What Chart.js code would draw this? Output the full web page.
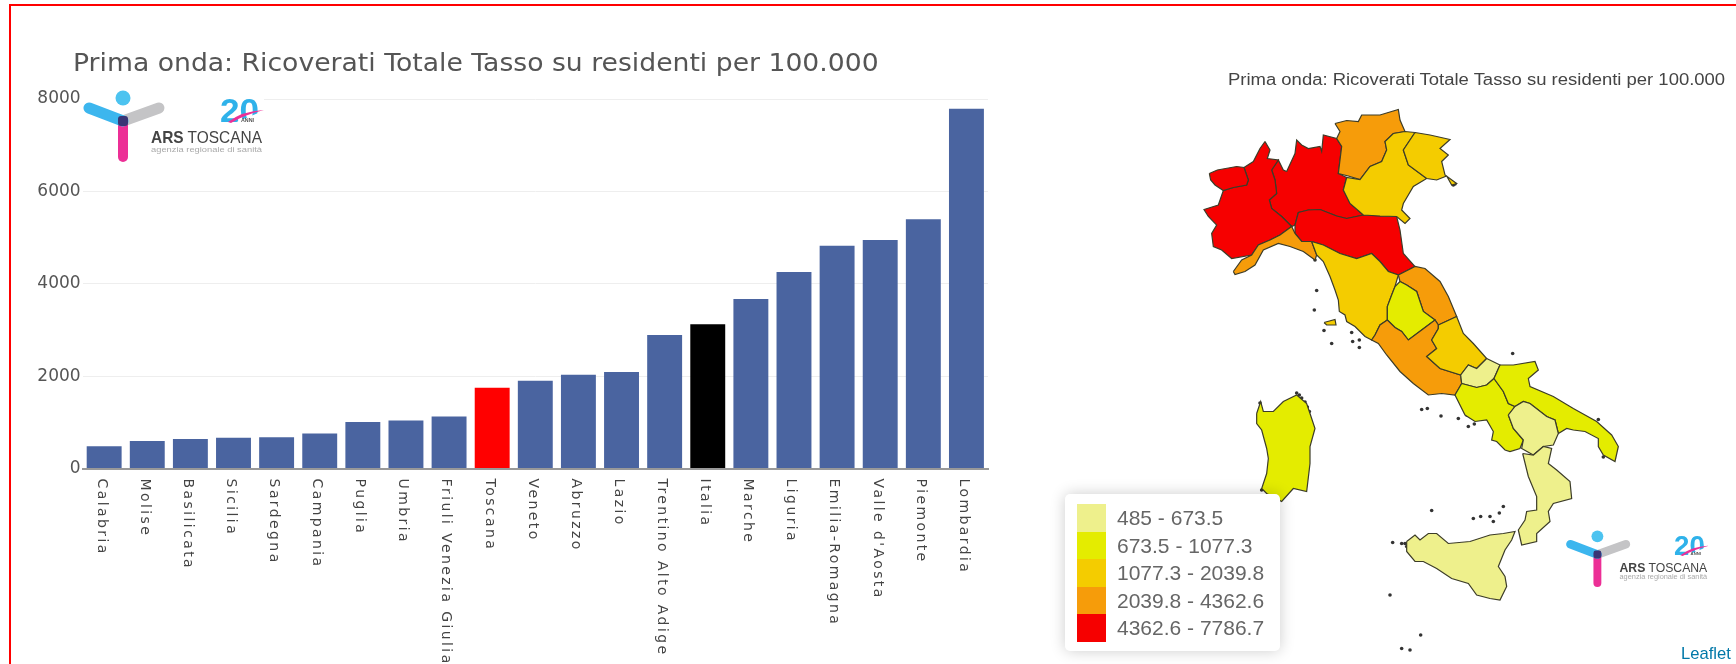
<!DOCTYPE html>
<html>
<head>
<meta charset="utf-8">
<title>Prima onda: Ricoverati Totale</title>
<script src="https://cdn.jsdelivr.net/npm/chart.js@4"></script>
<style>
  html, body { margin: 0; padding: 0; background: #fff; overflow: hidden; width: 1736px; height: 664px; }
  #frame { position: absolute; left: 9px; top: 4px; width: 1740px; height: 700px; border: 2px solid #f00; box-sizing: border-box; }
  canvas { position: absolute; filter: blur(.45px); }
  #barCanvas { left: 0; top: 0; }
  #mapCanvas { left: 1000px; top: 63px; }
  #title { position: absolute; left: 73px; top: 49px; font: 24px "DejaVu Sans"; color: #555; white-space: nowrap; transform: scaleX(1.11); transform-origin: left; filter: blur(.3px); }
  #mapTitle { position: absolute; left: 1228px; top: 71px; font: 16px "Liberation Sans"; color: #444; white-space: nowrap; transform: scaleX(1.154); transform-origin: left; filter: blur(.3px); }
  #legend { position: absolute; left: 1065px; top: 494px; width: 215px; height: 157px; background: #fff; border-radius: 5px; box-shadow: 0 0 15px rgba(0,0,0,.2); }
  .row { position: absolute; left: 12px; width: 200px; height: 27.6px; }
  .swatch { position: absolute; left: 0; top: 0; width: 28.5px; height: 27.6px; }
  .rowText { position: absolute; left: 40px; top: 2px; font: 21px "Liberation Sans"; color: #666; white-space: nowrap; }
  #leaflet { position: absolute; left: 1681px; top: 644px; font: 16.6px "Liberation Sans"; color: #0078a8; }
  .logo { position: absolute; background: #fff; }
</style>
</head>
<body>
<div id="frame"></div>
<canvas id="barCanvas" width="1010" height="664"></canvas>
<canvas id="mapCanvas" width="736" height="600"></canvas>
<div id="title">Prima onda: Ricoverati Totale Tasso su residenti per 100.000</div>
<div id="mapTitle">Prima onda: Ricoverati Totale Tasso su residenti per 100.000</div>
<div id="legend"></div>
<div id="leaflet">Leaflet</div>
<div id="logo1" class="logo" style="left:82px;top:90px;width:182px;height:75px"></div>
<div id="logo2" class="logo" style="left:1564.6px;top:529.7px;width:143.8px;height:59.3px"></div>

<script>
const categories = ['Calabria', 'Molise', 'Basilicata', 'Sicilia', 'Sardegna', 'Campania', 'Puglia', 'Umbria',
  'Friuli Venezia Giulia', 'Toscana', 'Veneto', 'Abruzzo', 'Lazio', 'Trentino Alto Adige', 'Italia', 'Marche',
  'Liguria', 'Emilia-Romagna', "Valle d'Aosta", 'Piemonte', 'Lombardia'];
const values = [485, 600, 640, 670, 680, 760, 1010, 1040, 1130, 1750, 1900, 2030, 2090, 2892, 3123, 3671, 4255, 4825, 4948, 5396, 7786.7];
const yTicks = [0, 2000, 4000, 6000, 8000];

const legendBreaks = [485, 673.5, 1077.3, 2039.8, 4362.6, 7786.7];
const legendColors = ['#eef08c', '#e4ec00', '#f4cc00', '#f69c0a', '#f60000'];

// region outlines as [lon, lat]
const valleAosta = [[6.28,45.79],[6.52,45.86],[7.10,45.93],[7.32,45.91],[7.45,45.66],[7.40,45.56],[7.00,45.51],[6.70,45.45],[6.45,45.56],[6.32,45.66]];
const piemonte = [[7.95,46.43],[8.10,46.26],[8.02,46.09],[8.35,46.06],[8.15,45.86],[8.25,45.66],[8.30,45.39],[8.08,45.26],[8.15,45.09],[8.45,44.93],[8.75,44.73],[8.40,44.56],[8.10,44.46],[7.75,44.36],[7.55,44.16],[6.95,44.09],[6.65,44.26],[6.40,44.33],[6.35,44.59],[6.50,44.76],[6.25,44.93],[6.12,45.07],[6.55,45.16],[6.70,45.45],[7.00,45.51],[7.40,45.56],[7.45,45.66],[7.32,45.91],[7.60,46.03],[7.80,46.29]];
const lombardia = [[8.60,45.83],[8.85,46.19],[8.90,46.46],[9.05,46.36],[9.25,46.29],[9.60,46.33],[9.65,46.23],[9.70,46.56],[10.10,46.49],[10.25,46.33],[10.15,45.79],[10.40,45.71],[10.30,45.46],[10.50,45.19],[10.90,44.96],[10.40,44.89],[10.10,44.94],[9.60,45.07],[9.25,45.06],[8.95,45.01],[8.85,44.76],[8.75,44.73],[8.45,44.93],[8.15,45.09],[8.08,45.26],[8.30,45.39],[8.25,45.66],[8.15,45.86],[8.35,46.06],[8.50,45.86]];
const trentino = [[10.05,46.79],[10.40,46.85],[10.75,46.83],[10.85,46.96],[11.40,46.96],[11.95,47.07],[12.00,46.86],[12.15,46.63],[11.80,46.59],[11.55,46.43],[11.60,46.26],[11.45,46.03],[11.10,45.93],[10.80,45.67],[10.45,45.74],[10.15,45.79],[10.25,46.33],[10.10,46.49],[10.20,46.63]];
const veneto = [[12.45,46.61],[12.10,46.26],[12.25,45.96],[12.80,45.69],[12.40,45.53],[12.10,45.19],[12.05,45.06],[12.30,44.89],[12.15,44.79],[11.90,44.93],[11.40,44.94],[10.90,44.96],[10.50,45.19],[10.30,45.46],[10.40,45.71],[10.80,45.67],[11.10,45.93],[11.45,46.03],[11.60,46.26],[11.55,46.43],[11.80,46.59],[12.15,46.63]];
const friuli = [[12.45,46.61],[12.90,46.56],[13.50,46.47],[13.20,46.29],[13.45,46.16],[13.25,46.03],[13.35,45.76],[13.70,45.59],[13.55,45.56],[13.40,45.74],[13.10,45.66],[12.80,45.69],[12.25,45.96],[12.10,46.26]];
const emilia = [[8.95,45.01],[9.25,45.06],[9.60,45.07],[10.10,44.94],[10.40,44.89],[10.90,44.96],[11.40,44.94],[11.90,44.93],[12.00,44.66],[12.10,44.19],[12.45,43.93],[11.95,43.76],[11.65,43.83],[11.40,44.03],[11.15,44.19],[10.70,44.09],[10.20,44.19],[9.70,44.36],[9.35,44.43],[9.05,44.43],[8.85,44.59],[8.85,44.76]];
const liguria = [[7.00,43.83],[7.25,44.06],[7.55,44.16],[7.75,44.36],[8.10,44.46],[8.40,44.56],[8.75,44.73],[8.85,44.59],[9.05,44.43],[9.35,44.43],[9.50,44.16],[9.45,44.06],[9.10,44.23],[8.70,44.33],[8.35,44.39],[7.90,44.26],[7.65,43.96],[7.35,43.83],[7.05,43.77]];
const toscana = [[9.35,44.43],[9.70,44.36],[10.20,44.19],[10.70,44.09],[11.15,44.19],[11.40,44.03],[11.65,43.83],[11.95,43.76],[11.85,43.53],[11.75,43.36],[11.62,43.13],[11.62,42.86],[11.40,42.76],[11.25,42.56],[11.15,42.46],[10.95,42.53],[10.65,42.73],[10.40,42.83],[10.35,42.96],[10.18,43.03],[10.15,43.26],[10.05,43.46],[9.90,43.73],[9.70,44.03],[9.50,44.16]];
const elba = [[9.72,42.81],[10.05,42.87],[10.08,42.76],[9.80,42.76]];
const marche = [[11.95,43.76],[12.45,43.93],[12.75,43.89],[13.20,43.63],[13.45,43.33],[13.70,42.93],[13.15,42.76],[13.05,42.86],[12.70,43.03],[12.50,43.43],[12.20,43.56],[12.00,43.63]];
const umbria = [[12.00,43.63],[11.85,43.53],[11.75,43.36],[11.62,43.13],[11.62,42.86],[11.85,42.71],[12.05,42.63],[12.25,42.46],[12.65,42.66],[13.05,42.86],[12.70,43.03],[12.50,43.43],[12.20,43.56]];
const lazio = [[11.62,42.86],[11.40,42.76],[11.25,42.56],[11.15,42.46],[11.35,42.39],[11.60,42.16],[12.00,41.83],[12.40,41.59],[12.85,41.36],[13.25,41.39],[13.65,41.36],[13.85,41.59],[13.82,41.76],[13.20,41.89],[12.80,42.13],[13.10,42.29],[12.95,42.46],[13.15,42.69],[13.15,42.76],[13.05,42.86],[12.65,42.66],[12.25,42.46],[12.05,42.63],[11.85,42.71]];
const abruzzo = [[13.15,42.76],[13.70,42.93],[13.90,42.59],[14.20,42.39],[14.60,42.09],[14.30,41.89],[14.05,41.96],[13.82,41.76],[13.20,41.89],[12.80,42.13],[13.10,42.29],[12.95,42.46],[13.15,42.69]];
const molise = [[14.60,42.09],[15.00,41.96],[14.82,41.69],[14.60,41.56],[14.30,41.51],[13.85,41.59],[13.82,41.76],[14.05,41.96],[14.30,41.89]];
const puglia = [[15.00,41.96],[15.40,41.96],[16.05,42.03],[16.15,41.86],[15.85,41.69],[15.90,41.53],[16.60,41.33],[17.20,41.09],[17.90,40.83],[18.35,40.56],[18.55,40.33],[18.45,40.03],[18.10,40.16],[17.95,40.33],[17.95,40.49],[17.55,40.63],[17.20,40.66],[17.00,40.69],[16.75,40.59],[16.65,40.86],[16.40,40.93],[15.90,41.19],[15.70,41.23],[15.45,41.13],[15.25,41.19],[15.10,41.43],[14.82,41.69]];
const campania = [[13.85,41.59],[14.30,41.51],[14.60,41.56],[14.82,41.69],[15.10,41.43],[15.25,41.19],[15.45,41.13],[15.25,40.96],[15.40,40.69],[15.70,40.46],[15.60,40.29],[15.30,40.23],[15.15,40.26],[14.90,40.43],[14.75,40.46],[14.80,40.63],[14.60,40.86],[14.25,40.83],[13.95,40.96],[13.65,41.36]];
const basilicata = [[15.25,40.96],[15.45,41.13],[15.70,41.23],[15.90,41.19],[16.40,40.93],[16.65,40.86],[16.75,40.59],[16.60,40.36],[16.30,40.33],[16.00,40.16],[15.65,40.29],[15.70,40.46],[15.40,40.69]];
const calabria = [[15.68,40.19],[16.00,40.16],[16.30,40.33],[16.55,40.29],[16.45,39.99],[16.70,39.86],[17.10,39.63],[17.15,39.29],[16.60,39.19],[16.45,39.03],[16.50,38.83],[16.10,38.59],[16.10,38.43],[15.65,38.36],[15.55,38.66],[15.75,38.86],[15.80,39.03],[16.10,39.06],[16.10,39.33],[15.85,39.73]];
const sicilia = [[12.20,38.43],[12.45,38.56],[12.60,38.46],[12.85,38.59],[13.10,38.59],[13.45,38.39],[14.10,38.43],[14.70,38.56],[15.10,38.59],[15.45,38.63],[15.35,38.46],[15.15,38.26],[14.95,37.93],[15.15,37.73],[15.20,37.53],[15.00,37.26],[14.70,37.29],[14.30,37.36],[14.05,37.59],[13.55,37.69],[13.10,37.89],[12.70,38.03],[12.45,38.03],[12.20,38.23]];
const sardegna = [[7.70,40.99],[7.82,41.23],[7.90,41.03],[8.20,41.03],[8.50,41.23],[8.90,41.36],[9.20,41.19],[9.30,40.99],[9.45,40.69],[9.30,40.33],[9.30,39.99],[9.20,39.43],[8.80,39.49],[8.45,39.23],[8.00,39.39],[7.85,39.49],[8.00,39.79],[8.05,40.09],[8.00,40.29],[7.85,40.66],[7.70,40.79]];
const smallIslands = [[9.50,43.45],[9.43,43.06],[9.72,42.65],[9.95,42.39],[10.55,42.61],[10.58,42.43],[10.78,42.31],[10.78,42.46],[9.45,44.06],[15.38,42.19],[12.65,41.07],[12.82,41.09],[13.23,40.94],[13.75,40.89],[14.00,40.96],[14.05,40.73],[14.23,40.78],[12.95,39.05],[14.20,38.89],[14.42,38.93],[14.70,38.93],[14.80,38.83],[14.98,39.00],[15.10,39.13],[11.78,38.41],[12.05,38.39],[12.15,38.39],[12.20,38.33],[11.70,37.36],[12.62,36.56],[12.30,36.26],[12.05,36.29],[8.90,41.40],[8.98,41.36],[9.05,41.30],[9.15,41.22],[9.22,41.12],[9.28,41.03],[7.80,41.20],[7.82,41.10],[7.85,39.46],[13.60,45.56],[13.65,45.58],[18.10,40.12],[17.95,40.87]];

const regionShapes = [
  ['Sicilia', sicilia], ['Calabria', calabria], ['Basilicata', basilicata], ['Puglia', puglia], ['Campania', campania],
  ['Molise', molise], ['Abruzzo', abruzzo], ['Lazio', lazio], ['Umbria', umbria], ['Marche', marche], ['Toscana', toscana],
  ['Toscana', elba], ['Liguria', liguria], ['Friuli Venezia Giulia', friuli], ['Veneto', veneto], ['Trentino Alto Adige', trentino],
  ['Emilia-Romagna', emilia], ["Valle d'Aosta", valleAosta], ['Piemonte', piemonte], ['Lombardia', lombardia], ['Sardegna', sardegna]
];

const barColor = (name) => name === 'Toscana' ? '#ff0000' : name === 'Italia' ? '#000000' : '#4a64a0';

const colorForValue = (v) => {
  for (let i = 0; i < legendColors.length; i++) {
    if (v <= legendBreaks[i + 1]) return legendColors[i];
  }
  return legendColors[legendColors.length - 1];
};

// x labels read top to bottom, chart.js only right-aligns these so draw them from the scale
const verticalLabels = {
  id: 'verticalLabels',
  afterDraw(chart) {
    const ctx = chart.ctx;
    const xScale = chart.scales.x;
    ctx.save();
    ctx.font = '14px "DejaVu Sans"';
    ctx.letterSpacing = '2.4px';
    ctx.fillStyle = '#444';
    ctx.textAlign = 'left';
    ctx.textBaseline = 'middle';
    categories.forEach((name, i) => {
      ctx.save();
      ctx.translate(xScale.getPixelForTick(i) - 3, xScale.top + 10);
      ctx.rotate(Math.PI / 2);
      ctx.fillText(name, 0, 0);
      ctx.restore();
    });
    ctx.restore();
  }
};

new Chart(document.getElementById('barCanvas'), {
  type: 'bar',
  data: {
    labels: categories,
    datasets: [{
      data: values,
      backgroundColor: categories.map(barColor),
      barPercentage: 0.81,
      categoryPercentage: 1
    }]
  },
  options: {
    responsive: false,
    animation: false,
    layout: { padding: { top: 99, right: 22, left: 0, bottom: 0 } },
    plugins: { legend: { display: false }, tooltip: { enabled: false } },
    scales: {
      x: {
        grid: { display: false },
        border: { color: '#999', width: 2 },
        ticks: { display: false },
        afterFit: (scale) => { scale.height = 195.4; }
      },
      y: {
        min: 0,
        max: 8000,
        afterBuildTicks: (scale) => { scale.ticks = yTicks.map((v) => ({ value: v })); },
        grid: { color: '#eeeeee', drawTicks: false },
        border: { display: false },
        ticks: {
          font: { family: 'DejaVu Sans', size: 17 },
          color: '#555',
          padding: 2,
          callback: (v) => String(v)
        },
        afterFit: (scale) => { scale.width = 82.6; }
      }
    }
  },
  plugins: [verticalLabels]
});

const mapDatasets = regionShapes.map(([name, shape]) => ({
  label: name,
  data: shape.concat([shape[0]]).map(([lon, lat]) => ({ x: lon, y: lat })),
  showLine: true,
  fill: 'shape',
  tension: 0,
  pointRadius: 0,
  borderWidth: 1.2,
  borderColor: '#3c3c28',
  backgroundColor: colorForValue(values[categories.indexOf(name)])
}));
mapDatasets.push({
  label: 'isole',
  data: smallIslands.map(([lon, lat]) => ({ x: lon, y: lat })),
  pointRadius: 1.8,
  pointBorderWidth: 0,
  backgroundColor: '#333'
});

new Chart(document.getElementById('mapCanvas'), {
  type: 'scatter',
  data: { datasets: mapDatasets },
  options: {
    responsive: false,
    animation: false,
    layout: { padding: 0, autoPadding: false },
    plugins: { legend: { display: false }, tooltip: { enabled: false } },
    scales: {
      x: { display: false, min: 0, max: 22.08 },
      y: { display: false, min: 36, max: 48 }
    }
  }
});

// legend rows
const legendBox = document.getElementById('legend');
legendColors.forEach((color, i) => {
  const row = document.createElement('div');
  row.className = 'row';
  row.style.top = (10 + i * 27.6) + 'px';
  row.innerHTML = '<div class="swatch" style="background:' + color + '"></div>' +
    '<div class="rowText">' + legendBreaks[i] + ' - ' + legendBreaks[i + 1] + '</div>';
  legendBox.appendChild(row);
});

// ARS Toscana logo
const logoSvg = `<svg xmlns="http://www.w3.org/2000/svg" viewBox="0 0 182 75" width="100%" height="100%" style="filter:blur(.7px)">
  <circle cx="41" cy="8" r="7.5" fill="#4cc3f0"/>
  <line x1="41" y1="31" x2="77" y2="18" stroke="#c4c4c6" stroke-width="11" stroke-linecap="round"/>
  <line x1="41" y1="31" x2="41" y2="67" stroke="#ec2f96" stroke-width="10" stroke-linecap="round"/>
  <line x1="41" y1="31" x2="7" y2="18" stroke="#3cb6ee" stroke-width="11" stroke-linecap="round"/>
  <rect x="36" y="26" width="10" height="10" rx="3" fill="#3a3575"/>
  <text x="138" y="32" font-family="Liberation Sans" font-weight="bold" font-size="34" fill="#2fb2ea" textLength="39" lengthAdjust="spacingAndGlyphs">20</text>
  <path d="M152 33 L181 21 L181 36 L152 36 Z" fill="#fff"/>
  <path d="M146 32 Q160 21 182 20 Q162 25 149 33 Z" fill="#ec2f96"/>
  <text x="159" y="32" font-family="Liberation Sans" font-weight="bold" font-size="5" fill="#555" textLength="13" lengthAdjust="spacingAndGlyphs">ANNI</text>
  <text x="69" y="53" font-family="Liberation Sans" font-size="17" fill="#444" textLength="111" lengthAdjust="spacingAndGlyphs"><tspan font-weight="bold">ARS</tspan> TOSCANA</text>
  <text x="69" y="62" font-family="Liberation Sans" font-size="8" fill="#aaa" textLength="111" lengthAdjust="spacingAndGlyphs">agenzia regionale di sanità</text>
</svg>`;
document.getElementById('logo1').innerHTML = logoSvg;
document.getElementById('logo2').innerHTML = logoSvg;
</script>
</body>
</html>
